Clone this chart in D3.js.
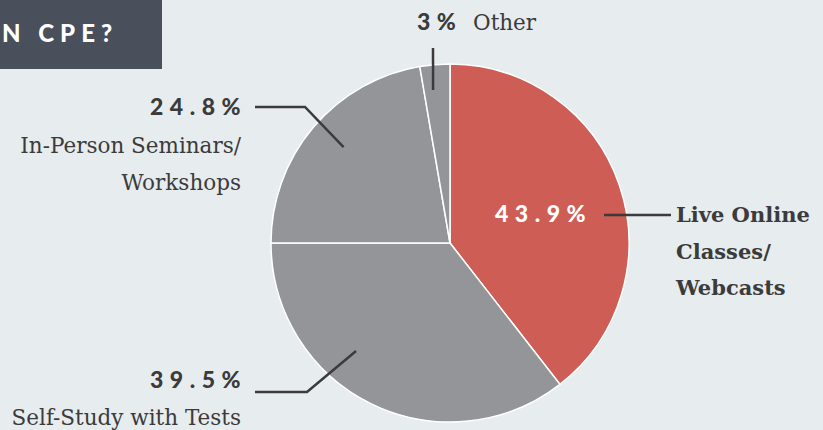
<!DOCTYPE html>
<html lang="en">
	<head>
		<meta charset="utf-8">
		<title>CPE pie chart</title>
		<script src="https://cdn.jsdelivr.net/npm/d3@7"></script>
		<style type="text/css">
			body { margin: 0; background: #e7ecee; }
			svg { display: block; }
		</style>
	</head>
	<body>
		<script type="text/javascript">

			//Width and height
			var w = 823;
			var h = 430;

			// data
			var categories = ["Live Online Classes/ Webcasts", "Self-Study with Tests", "In-Person Seminars/ Workshops", "Other"];
			var values = [43.9, 39.5, 24.8, 3];
			var valueLabels = ["43.9%", "39.5%", "24.8%", "3%"];
			var labelLines = [["Live Online", "Classes/", "Webcasts"], ["Self-Study with Tests"], ["In-Person Seminars/", "Workshops"], ["Other"]];
			var sliceColors = ["#cd5d55", "#949599", "#949599", "#949599"];

			var cx = 450, cy = 243, r = 179;
			var ink = "#3b3b3b";
			var serif = "'DejaVu Serif', 'Liberation Serif', serif";
			var sans = "Lato, 'DejaVu Sans', sans-serif";

			var svg = d3.select("body")
						.append("svg")
						.attr("width", w)
						.attr("height", h);

			svg.append("rect")
			   .attr("width", w)
			   .attr("height", h)
			   .attr("fill", "#e7ecee");

			// title banner (cut off at the left edge)
			svg.append("rect")
			   .attr("x", 0)
			   .attr("y", 0)
			   .attr("width", 162)
			   .attr("height", 69)
			   .attr("fill", "#4a4f5c");

			svg.append("text")
			   .text("N CPE?")
			   .attr("x", 2)
			   .attr("y", 42)
			   .attr("font-family", sans)
			   .attr("font-weight", "900")
			   .attr("font-size", "24px")
			   .attr("letter-spacing", "6px")
			   .attr("fill", "white");

			var pie = d3.pie().sort(null).value(function(d) { return d; });
			var arc = d3.arc().innerRadius(0).outerRadius(r);
			var arcs = pie(values);

			var g = svg.append("g")
					   .attr("transform", "translate(" + cx + "," + cy + ")");

			g.selectAll("path")
			 .data(arcs)
			 .enter()
			 .append("path")
			 .attr("d", arc)
			 .attr("fill", function(d, i) { return sliceColors[i]; })
			 .attr("stroke", "white")
			 .attr("stroke-width", 1.5);

			// point at angle (degrees, clockwise from top) and radius fraction
			function polar(deg, frac) {
				var a = deg * Math.PI / 180;
				return [cx + Math.sin(a) * r * frac, cy - Math.cos(a) * r * frac];
			}

			// leader lines
			var leaders = [
				[[604, 215], [671, 215]],
				[[255, 392], [307, 392], polar(221, 0.8)],
				[[255, 107], [305, 107], polar(312, 0.8)],
				[[433, 48], polar(353.7, 0.86)]
			];

			svg.selectAll("path.leader")
			   .data(leaders)
			   .enter()
			   .append("path")
			   .attr("class", "leader")
			   .attr("d", d3.line())
			   .attr("fill", "none")
			   .attr("stroke", ink)
			   .attr("stroke-width", 2.5);

			// percent labels
			var pctPos = [
				{x: 495, y: 222, anchor: "start", fill: "white"},
				{x: 247, y: 388, anchor: "end", fill: ink},
				{x: 247, y: 115, anchor: "end", fill: ink},
				{x: 417, y: 30, anchor: "start", fill: ink}
			];

			svg.selectAll("text.pct")
			   .data(valueLabels)
			   .enter()
			   .append("text")
			   .attr("class", "pct")
			   .text(function(d) { return d; })
			   .attr("x", function(d, i) { return pctPos[i].x; })
			   .attr("y", function(d, i) { return pctPos[i].y; })
			   .attr("text-anchor", function(d, i) { return pctPos[i].anchor; })
			   .attr("fill", function(d, i) { return pctPos[i].fill; })
			   .attr("font-family", sans)
			   .attr("font-weight", "900")
			   .attr("font-size", "23px")
			   .attr("letter-spacing", "6.5px");

			// category labels
			var catPos = [
				{x: 676, y: 222, anchor: "start", bold: true},
				{x: 241, y: 425, anchor: "end", bold: false},
				{x: 241, y: 153, anchor: "end", bold: false},
				{x: 473, y: 30, anchor: "start", bold: false}
			];

			labelLines.forEach(function(lines, i) {
				var p = catPos[i];
				var t = svg.append("text")
						   .attr("x", p.x)
						   .attr("y", p.y)
						   .attr("text-anchor", p.anchor)
						   .attr("fill", ink)
						   .attr("font-family", serif)
						   .attr("font-weight", p.bold ? "bold" : "normal")
						   .attr("font-size", p.bold ? "21px" : "21.5px");
				lines.forEach(function(line, j) {
					t.append("tspan")
					 .attr("x", p.x)
					 .attr("dy", j === 0 ? 0 : 36.5)
					 .text(line);
				});
			});

		</script>
	</body>
</html>
